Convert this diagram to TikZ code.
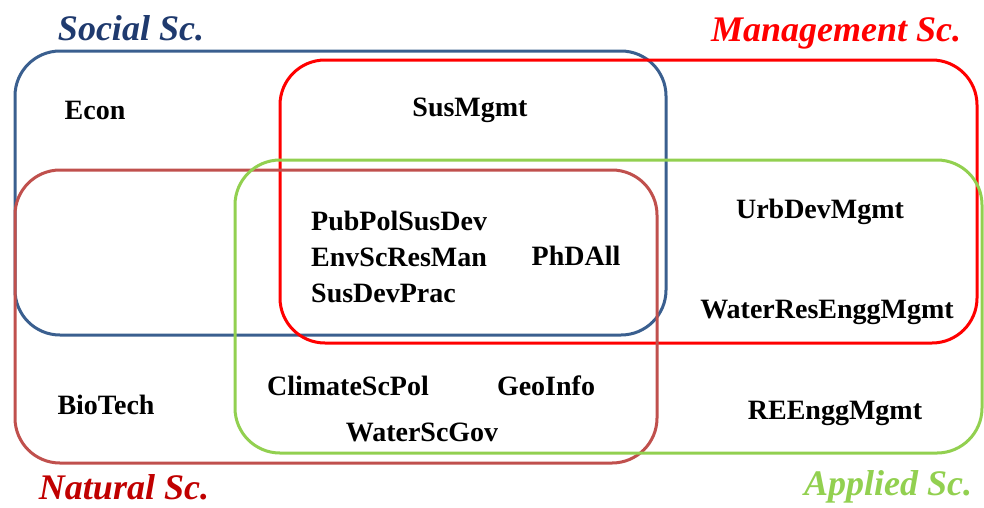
\documentclass[tikz,border=0pt]{standalone}
\usepackage{fontspec}
\setmainfont{Liberation Serif}
\usepackage{tikz}
\usetikzlibrary{positioning}
\definecolor{socblue}{HTML}{3A5F8F}
\definecolor{socnavy}{HTML}{1F3A6E}
\definecolor{mgmtred}{HTML}{FF0000}
\definecolor{natred}{HTML}{C0504D}
\definecolor{natdark}{HTML}{C00000}
\definecolor{appgreen}{HTML}{92D050}

\begin{document}
\begin{tikzpicture}[x=1pt, y=-1pt,
    setbox/.style={line width=3pt, rounded corners=45pt},
    prog/.style={font=\fontsize{28}{32}\selectfont\bfseries, inner sep=0pt},
    settitle/.style={font=\fontsize{36}{40}\selectfont\bfseries\itshape, inner sep=0pt}
]
    \useasboundingbox (0,0) rectangle (984,507);

    % the four sets
    \draw[setbox, socblue] (15,51) rectangle (666,335);
    \draw[setbox, mgmtred] (280,60) rectangle (977,343);
    \draw[setbox, natred] (15,170) rectangle (657,463);
    \draw[setbox, appgreen] (235,160) rectangle (982,453);

    % set titles
    \node[settitle, text=socnavy] (soc) at (131,28) {Social Sc.};
    \node[settitle, text=mgmtred] (mgmt) at (836,33) {Management Sc.};
    \node[settitle, text=natdark] (nat) at (124,487) {Natural Sc.};
    \node[settitle, text=appgreen] (app) at (888,487) {Applied Sc.};

    % programmes
    \node[prog] (econ) at (95,110) {Econ};
    \node[prog] (susmgmt) at (470,110) {SusMgmt};
    \node[prog, anchor=west] (pubpol) at (311,221) {PubPolSusDev};
    \node[prog, anchor=west] (envsc) at (311,257) {EnvScResMan};
    \node[prog, anchor=west] (susdev) at (311,293) {SusDevPrac};
    \node[prog] (phd) at (576,256) {PhDAll};
    \node[prog] (urbdev) at (820,212) {UrbDevMgmt};
    \node[prog] (waterres) at (827,312) {WaterResEnggMgmt};
    \node[prog] (biotech) at (106,405) {BioTech};
    \node[prog] (climate) at (348,386) {ClimateScPol};
    \node[prog] (geoinfo) at (546,386) {GeoInfo};
    \node[prog] (watersc) at (422,432) {WaterScGov};
    \node[prog] (reengg) at (835,413) {REEnggMgmt};
\end{tikzpicture}
\end{document}
